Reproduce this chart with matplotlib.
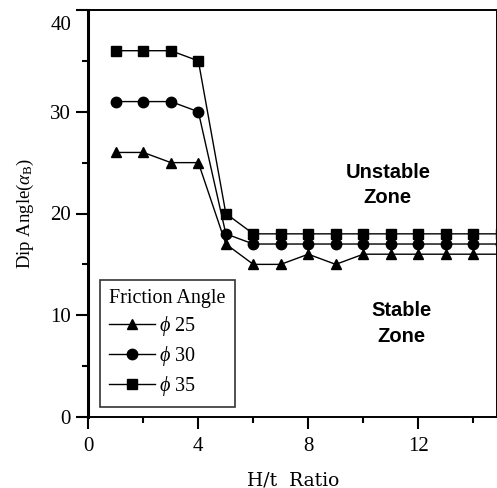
import matplotlib
matplotlib.use("Agg")
import matplotlib.pyplot as plt
import matplotlib.transforms as mtransforms

# H/t ratio and dip angle for each friction angle
ht_ratio = [1, 2, 3, 4, 5, 6, 7, 8, 9, 10, 11, 12, 13, 14, 15]
phi25 = [26, 26, 25, 25, 17, 15, 15, 16, 15, 16, 16, 16, 16, 16, 16]
phi30 = [31, 31, 31, 30, 18, 17, 17, 17, 17, 17, 17, 17, 17, 17, 17]
phi35 = [36, 36, 36, 35, 20, 18, 18, 18, 18, 18, 18, 18, 18, 18, 18]
series_labels = [r"$\phi$ 25", r"$\phi$ 30", r"$\phi$ 35"]
series_markers = ["^", "o", "s"]

xticks = [0, 4, 8, 12]
yticks = [0, 10, 20, 30, 40]

plt.rcParams["font.family"] = ["Liberation Serif", "DejaVu Serif"]
plt.rcParams["mathtext.fontset"] = "custom"
plt.rcParams["mathtext.rm"] = "Liberation Serif"
plt.rcParams["mathtext.it"] = "Liberation Serif:italic"

fig = plt.figure(figsize=(4.97, 4.88), dpi=100)
ax = fig.add_axes([0.178, 0.1455, 0.822, 0.834])

for ys, lab, mk in zip([phi25, phi30, phi35], series_labels, series_markers):
    ax.plot(ht_ratio, ys, color="black", lw=1.0, marker=mk, ms=7.5,
            mfc="black", mec="black", label=lab)

ax.set_xlim(0, 14.87)
ax.set_ylim(0, 40)
ax.set_xticks(xticks)
ax.set_yticks(yticks)
ax.set_xticks([2, 6, 10, 14], minor=True)
ax.set_yticks([5, 15, 25, 35], minor=True)
ax.tick_params(which="major", direction="out", length=8.5, width=1.5,
               labelsize=15, pad=4)
ax.tick_params(which="minor", direction="out", length=4.5, width=1.5)
ax.tick_params(axis="x", which="major", pad=6)

for s in ax.spines.values():
    s.set_linewidth(1.4)
ax.spines["left"].set_linewidth(2.2)

# "40" label sits a bit below the top tick in the original
for t in ax.get_yticklabels():
    if t.get_text() == "40":
        t.set_transform(t.get_transform() + mtransforms.ScaledTranslation(0, -13 / 100, fig.dpi_scale_trans))

ax.set_xlabel("H/t  Ratio", fontsize=13.5, labelpad=11, family="DejaVu Serif")
ax.set_ylabel(r"Dip Angle($\alpha_{\mathrm{B}}$)", fontsize=13.5, labelpad=10)

ax.text(10.9, 22.8, "Unstable\nZone", ha="center", va="center", fontsize=14.5,
        fontweight="bold", family="Liberation Sans", linespacing=1.45)
ax.text(11.4, 9.2, "Stable\nZone", ha="center", va="center", fontsize=14.5,
        fontweight="bold", family="Liberation Sans", linespacing=1.45)

leg = ax.legend(title="Friction Angle", loc="lower left",
                bbox_to_anchor=(0.028, 0.025), borderaxespad=0,
                fontsize=14.5, title_fontsize=14.5,
                frameon=True, fancybox=False, edgecolor="black",
                handlelength=2.3, handletextpad=0.2, labelspacing=0.3,
                borderpad=0.45)
leg.get_frame().set_linewidth(1.2)
leg._legend_box.align = "left"

fig.savefig("out.png", dpi=100)
